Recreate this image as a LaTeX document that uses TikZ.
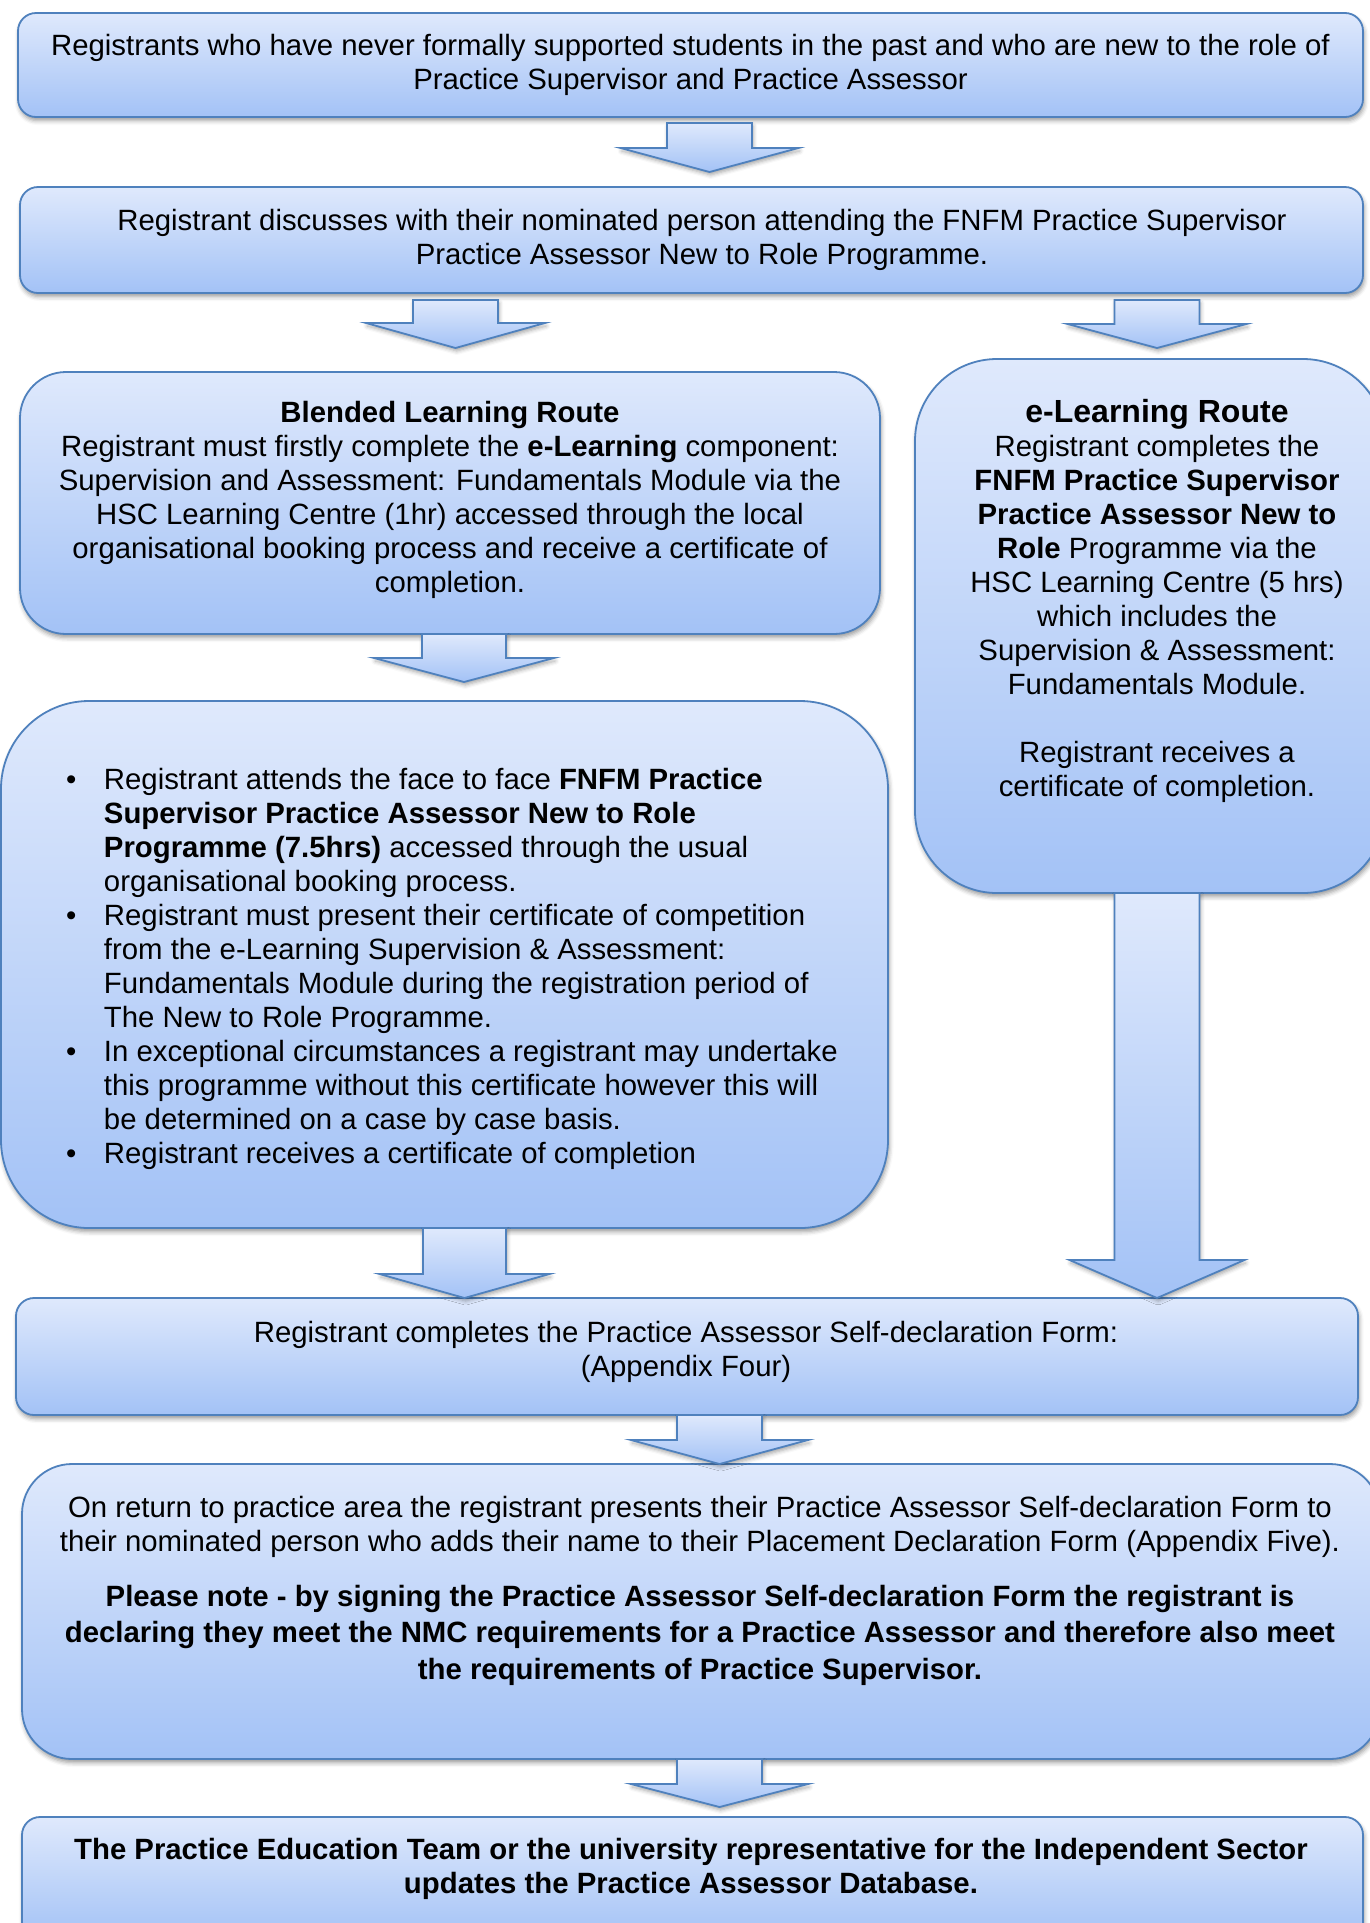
\documentclass[tikz,border=0pt]{standalone}
\usepackage{fontspec}
\setmainfont{Liberation Sans}
\usetikzlibrary{calc,shadows.blur}
\definecolor{bxtop}{RGB}{223,233,252}
\definecolor{bxbot}{RGB}{163,194,246}
\definecolor{bxline}{RGB}{79,129,189}
\newcommand{\ctab}[1]{\begin{tabular}[t]{@{}c@{}}#1\end{tabular}}
% #1 start, #2 tip, #3 shaft half width, #4 head half width, #5 head length
\newcommand{\barrow}[5]{%
  \path[blockarrow] let \p1=#1, \p2=#2 in
    (\x1-#3,\y1) -- (\x1+#3,\y1) -- (\x1+#3,\y2+#5) -- (\x1+#4,\y2+#5)
    -- (\x2,\y2) -- (\x1-#4,\y2+#5) -- (\x1-#3,\y2+#5) -- cycle;}
\tikzset{
  flowbox/.style={draw=bxline, line width=0.9pt, top color=bxtop, bottom color=bxbot,
    inner sep=0pt, outer sep=0pt,
    blur shadow={shadow xshift=0.6pt, shadow yshift=-1.8pt, shadow blur radius=2.2pt, shadow opacity=40}},
  blockarrow/.style={draw=bxline, line width=0.9pt, top color=bxtop, bottom color=bxbot,
    blur shadow={shadow xshift=0.6pt, shadow yshift=-1.5pt, shadow blur radius=2pt, shadow opacity=35}},
  txt/.style={inner sep=0pt, outer sep=0pt, anchor=base, text=black}
}
\begin{document}
\begin{tikzpicture}[x=0.5pt,y=-0.5pt,font=\fontsize{14.67pt}{17pt}\selectfont]
\useasboundingbox (0,0) rectangle (1370,1923);
\clip (0,0) rectangle (1370,1923);

% boxes
\node[flowbox, rounded corners=9pt, minimum width=672.5pt, minimum height=52pt] (b1) at (690.5,65) {};
\node[flowbox, rounded corners=9pt, minimum width=671.5pt, minimum height=53pt] (b2) at (691.5,240) {};
\node[flowbox, rounded corners=23pt, minimum width=430pt, minimum height=131pt] (b3) at (450,503) {};
\node[flowbox, rounded corners=41pt, minimum width=235pt, minimum height=267pt] (b4) at (1150,626) {};
\node[flowbox, rounded corners=44pt, minimum width=443.5pt, minimum height=263.5pt] (b5) at (444.5,964.5) {};
\node[flowbox, rounded corners=9pt, minimum width=671pt, minimum height=58.5pt] (b6) at (687,1356.5) {};
\node[flowbox, rounded corners=25pt, minimum width=679pt, minimum height=147.5pt] (b7) at (701,1611.5) {};
\node[flowbox, rounded corners=9pt, minimum width=670.5pt, minimum height=61.5pt] (b8) at (692.5,1878.5) {};

% block arrows
\barrow{($(b1.south)+(19,6)$)}{($(b2.north)+(18,-15)$)}{21.25pt}{44.5pt}{12pt}
\barrow{($(b2.south)+(-236,7)$)}{($(b3.north)+(5.5,-24)$)}{21.25pt}{44.75pt}{12.5pt}
\barrow{($(b2.south)+(465.5,7)$)}{($(b4.north)+(7,-11)$)}{21.25pt}{44.75pt}{12pt}
\barrow{($(b3.south)+(14,0)$)}{($(b5.north)+(19.5,-19)$)}{21pt}{45pt}{12pt}
\barrow{($(b5.south)+(20,0)$)}{($(b6.north)+(-222.5,0)$)}{20.75pt}{42.5pt}{12pt}
\barrow{($(b4.south)+(7,0)$)}{($(b6.north)+(470,0)$)}{21.25pt}{43.75pt}{19pt}
\barrow{($(b6.south)+(32.5,0)$)}{($(b7.north)+(18.5,0)$)}{21.25pt}{44.25pt}{12pt}
\barrow{($(b7.south)+(18.5,0)$)}{($(b8.north)+(27,-10)$)}{21.25pt}{44.25pt}{11.5pt}

% texts
\node[txt] (t1) at (690.5,55) {\ctab{Registrants who have never formally supported students in the past and who are new to the role of\\
Practice Supervisor and Practice Assessor}};

\node[txt] (t2) at (702,230) {\ctab{Registrant discusses with their nominated person attending the FNFM Practice Supervisor\\
Practice Assessor New to Role Programme.}};

\node[txt] (t3) at (450,422) {\ctab{\textbf{Blended Learning Route}\\
Registrant must firstly complete the \textbf{e-Learning} component:\\
Supervision and Assessment: Fundamentals Module via the\\
HSC Learning Centre (1hr) accessed through the local\\
organisational booking process and receive a certificate of\\
completion.}};

\node[txt] (t4) at (1157,422) {\ctab{{\fontsize{16pt}{17pt}\selectfont\textbf{e-Learning Route}}\\
Registrant completes the\\
\textbf{FNFM Practice Supervisor}\\
\textbf{Practice Assessor New to}\\
\textbf{Role} Programme via the\\
HSC Learning Centre (5 hrs)\\
which includes the\\
Supervision \& Assessment:\\
Fundamentals Module.\\
\\
Registrant receives a\\
certificate of completion.}};

\node[txt, anchor=base west] (t5) at (66,789) {\begin{tabular}[t]{@{}l@{\hspace{13.85pt}}l@{}}
\textbullet & Registrant attends the face to face \textbf{FNFM Practice}\\
 & \textbf{Supervisor Practice Assessor New to Role}\\
 & \textbf{Programme (7.5hrs)} accessed through the usual\\
 & organisational booking process.\\
\textbullet & Registrant must present their certificate of competition\\
 & from the e-Learning Supervision \& Assessment:\\
 & Fundamentals Module during the registration period of\\
 & The New to Role Programme.\\
\textbullet & In exceptional circumstances a registrant may undertake\\
 & this programme without this certificate however this will\\
 & be determined on a case by case basis.\\
\textbullet & Registrant receives a certificate of completion
\end{tabular}};

\node[txt] (t6) at (686,1342) {\ctab{Registrant completes the Practice Assessor Self-declaration Form:\\
(Appendix Four)}};

\node[txt] (t7) at (700,1517) {\ctab{On return to practice area the registrant presents their Practice Assessor Self-declaration Form to\\
their nominated person who adds their name to their Placement Declaration Form (Appendix Five).\\[10.5pt]
\textbf{Please note - by signing the Practice Assessor Self-declaration Form the registrant is}\\[1.25pt]
\textbf{declaring they meet the NMC requirements for a Practice Assessor and therefore also meet}\\[1.25pt]
\textbf{the requirements of Practice Supervisor.}}};

\node[txt] (t8) at (691,1859) {\ctab{\textbf{The Practice Education Team or the university representative for the Independent Sector}\\
\textbf{updates the Practice Assessor Database.}}};
\end{tikzpicture}
\end{document}
